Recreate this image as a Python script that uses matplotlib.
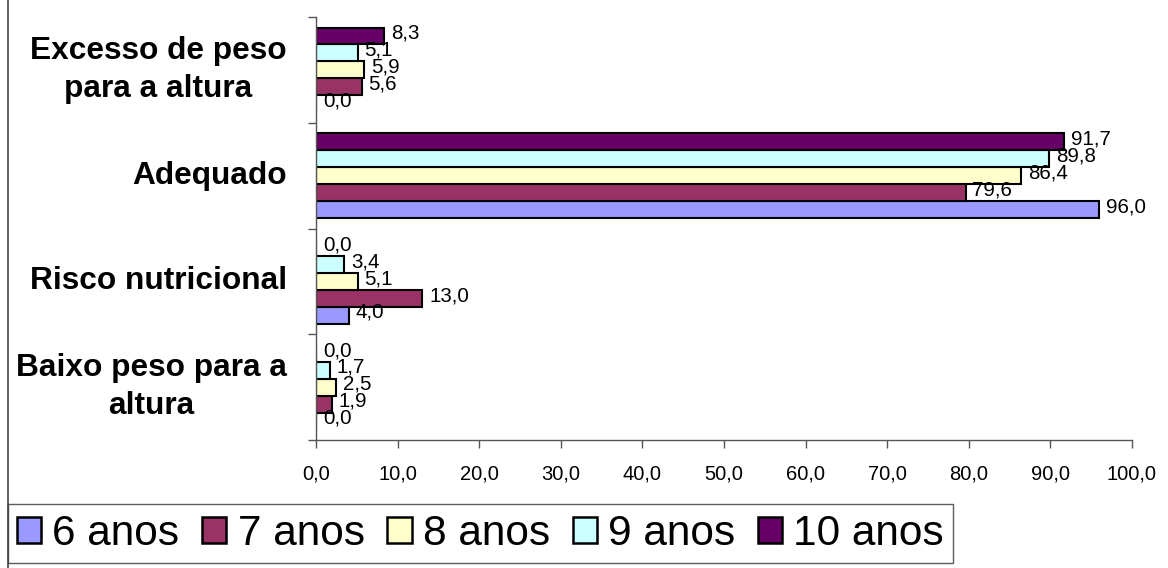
import matplotlib
matplotlib.use("Agg")
import matplotlib.pyplot as plt
from matplotlib.patches import Patch
from matplotlib.lines import Line2D
import numpy as np

plt.rcParams['font.family'] = ['Liberation Sans', 'DejaVu Sans']

categories = ["Baixo peso para a\naltura", "Risco nutricional", "Adequado",
              "Excesso de peso\npara a altura"]
series = ["6 anos", "7 anos", "8 anos", "9 anos", "10 anos"]
values = {
    "6 anos":  [0.0, 4.0, 96.0, 0.0],
    "7 anos":  [1.9, 13.0, 79.6, 5.6],
    "8 anos":  [2.5, 5.1, 86.4, 5.9],
    "9 anos":  [1.7, 3.4, 89.8, 5.1],
    "10 anos": [0.0, 0.0, 91.7, 8.3],
}
colors = ["#9999FF", "#993366", "#FFFFCC", "#CCFFFF", "#660066"]
xticks = np.arange(0, 101, 10)

fig = plt.figure(figsize=(11.68, 5.68), dpi=100)
ax = fig.add_axes([316 / 1168, 1 - 440 / 568, (1132 - 316) / 1168, (440 - 17) / 568])

n = len(series)
bar_h = 0.8 / n
y = np.arange(len(categories))
for i, (name, col) in enumerate(zip(series, colors)):
    pos = y - 0.4 + bar_h * (i + 0.5)
    vals = values[name]
    ax.barh(pos, vals, height=bar_h, color=col, edgecolor="black",
            linewidth=1.5, label=name)
    for p, v in zip(pos, vals):
        ax.annotate(f"{v:.1f}".replace(".", ","), xy=(v, p),
                    xytext=(5, 2), textcoords="offset points",
                    ha="left", va="center", fontsize=14.8, color="black")

ax.set_xlim(0, 100)
ax.set_ylim(-0.5, len(categories) - 0.5)
ax.set_xticks(xticks)
ax.set_xticklabels([f"{t:.1f}".replace(".", ",") for t in xticks], fontsize=14.5)
ax.set_yticks(y)
ax.set_yticklabels(categories, fontsize=22.8, fontweight="bold",
                   ha="right", va="center", multialignment="center",
                   linespacing=1.32)
ax.tick_params(axis="y", which="major", length=0, pad=21)
ax.set_yticks(np.arange(-0.5, len(categories), 1.0), minor=True)
ax.tick_params(axis="y", which="minor", length=6, width=1, color="#555555", direction="out")
ax.tick_params(axis="x", length=6, width=1, color="#555555", pad=12)
for s in ["top", "right"]:
    ax.spines[s].set_visible(False)
for s in ["left", "bottom"]:
    ax.spines[s].set_color("#555555")
    ax.spines[s].set_linewidth(1)

# chart area border on the left
fig.add_artist(Line2D([8 / 1168, 8 / 1168], [0, 1], transform=fig.transFigure,
                      color="#444444", linewidth=1.2))

handles = [Patch(facecolor=c, edgecolor="black", linewidth=1.8) for c in colors]
leg = fig.legend(handles, series, loc="lower left",
                 bbox_to_anchor=(8 / 1168, 5 / 568), ncol=5, fontsize=30.5,
                 frameon=True, fancybox=False, shadow=False,
                 handlelength=0.57, handleheight=0.57, handletextpad=0.26,
                 columnspacing=0.54, borderpad=0.22, borderaxespad=0)
leg.get_frame().set_edgecolor("#333333")
leg.get_frame().set_linewidth(1)

fig.savefig("out.png", dpi=100)
